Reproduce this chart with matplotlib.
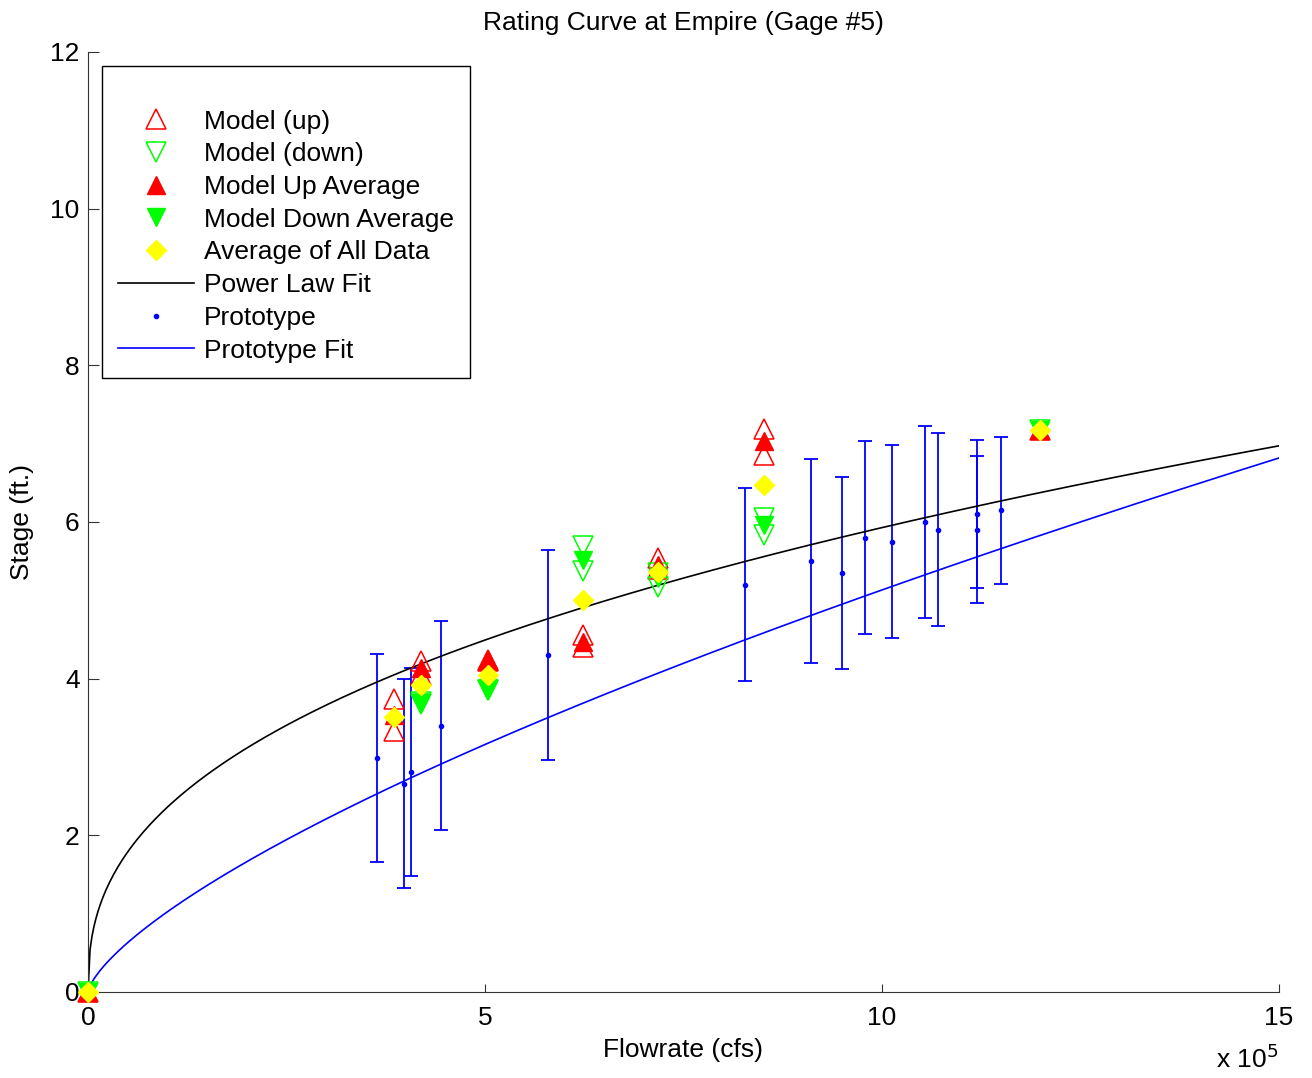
import numpy as np
import matplotlib
matplotlib.use("Agg")
import matplotlib.pyplot as plt
from matplotlib.ticker import FuncFormatter

plt.rcParams['font.family'] = ['Liberation Sans', 'DejaVu Sans']
plt.rcParams['font.size'] = 19

# model runs (flowrate in cfs, stage in ft)
up_q = [0, 385000, 385000, 420000, 420000, 504000, 504000, 624000, 624000,
        718000, 718000, 852000, 852000, 1199000]
up_h = [0, 3.74, 3.33, 4.22, 4.05, 4.24, 4.23, 4.56, 4.41,
        5.54, 5.40, 7.19, 6.86, 7.17]
down_q = [0, 420000, 420000, 504000, 504000, 624000, 624000,
          718000, 718000, 852000, 852000, 1199000]
down_h = [0, 3.70, 3.68, 3.86, 3.85, 5.69, 5.37,
          5.35, 5.17, 6.05, 5.83, 7.17]

avg_q = [0, 385000, 420000, 504000, 624000, 718000, 852000, 1199000]
up_avg_h = [0, 3.53, 4.13, 4.24, 4.47, 5.45, 7.03, 7.17]
down_avg_q = [0, 420000, 504000, 624000, 718000, 852000, 1199000]
down_avg_h = [0, 3.69, 3.86, 5.52, 5.28, 5.96, 7.17]
all_avg_h = [0, 3.51, 3.92, 4.05, 5.00, 5.36, 6.47, 7.17]

# prototype gage readings with uncertainty
proto_q = [364000, 398000, 407000, 444000, 579000, 827000, 911000, 950000,
           979000, 1013000, 1054000, 1071000, 1120000, 1120000, 1150000]
proto_h = [2.99, 2.66, 2.81, 3.40, 4.30, 5.20, 5.50, 5.35,
           5.80, 5.75, 6.00, 5.90, 6.10, 5.90, 6.15]
proto_err = [1.33, 1.33, 1.33, 1.33, 1.34, 1.23, 1.30, 1.23,
             1.23, 1.23, 1.23, 1.23, 0.94, 0.94, 0.94]

# power law fits: h = a * (Q / 1e5) ** b
model_fit = (2.36, 0.40)
proto_fit = (1.024, 0.70)

fig = plt.figure(figsize=(13.12, 10.78), dpi=100)
ax = fig.add_axes([0.0671, 0.0798, 0.9077, 0.872])

qq = np.linspace(0, 1.5e6, 600)

ax.errorbar(proto_q, proto_h, yerr=proto_err, fmt='none', ecolor='blue',
            elinewidth=1.3, capsize=5, capthick=1.3, zorder=2)
ax.plot(up_q, up_h, '^', mfc='none', mec='red', ms=14, mew=1.1,
        label='Model (up)', zorder=3, clip_on=False)
ax.plot(down_q, down_h, 'v', mfc='none', mec=(0, 1, 0), ms=14, mew=1.1,
        label='Model (down)', zorder=3, clip_on=False)
ax.plot(avg_q, up_avg_h, '^', color='red', ms=13, label='Model Up Average',
        zorder=4, clip_on=False)
ax.plot(down_avg_q, down_avg_h, 'v', color=(0, 1, 0), ms=13,
        label='Model Down Average', zorder=4, clip_on=False)
ax.plot(avg_q, all_avg_h, 'D', color=(1, 1, 0), ms=10.5,
        label='Average of All Data', zorder=5, clip_on=False)
ax.plot(qq, model_fit[0] * (qq / 1e5) ** model_fit[1], color='black', lw=1.2,
        label='Power Law Fit', zorder=2)
ax.plot(proto_q, proto_h, '.', color='blue', ms=6, label='Prototype', zorder=3)
ax.plot(qq, proto_fit[0] * (qq / 1e5) ** proto_fit[1], color='blue', lw=1.2,
        label='Prototype Fit', zorder=2)

ax.set_xlim(0, 1.5e6)
ax.set_ylim(0, 12)
ax.set_xticks([0, 5e5, 10e5, 15e5])
ax.set_yticks(range(0, 13, 2))
ax.xaxis.set_major_formatter(FuncFormatter(lambda v, p: '%g' % (v / 1e5)))
ax.spines['top'].set_visible(False)
ax.spines['right'].set_visible(False)
for s in ['left', 'bottom']:
    ax.spines[s].set_color('#333333')
ax.tick_params(axis='y', direction='in', length=8, pad=6, colors='#333333',
               labelcolor='black')
ax.tick_params(axis='x', direction='in', length=6, pad=10, colors='#333333',
               labelcolor='black')

ax.set_title('Rating Curve at Empire (Gage #5)', fontsize=19, pad=16)
ax.set_xlabel('Flowrate (cfs)', labelpad=6)
ax.set_ylabel('Stage (ft.)', labelpad=12)
fig.text(0.974, 0.005, r'x 10$^5$', ha='right', va='bottom', fontsize=19)

leg = ax.legend(loc='upper left', bbox_to_anchor=(0.0118, 0.985), borderaxespad=0,
                numpoints=1, handlelength=2.9, handletextpad=0.35,
                labelspacing=0.33, borderpad=0.6, fancybox=False,
                edgecolor='black', framealpha=1, title=' ', title_fontsize=15)
leg.get_frame().set_linewidth(1.0)

fig.savefig('out.png', dpi=100)
